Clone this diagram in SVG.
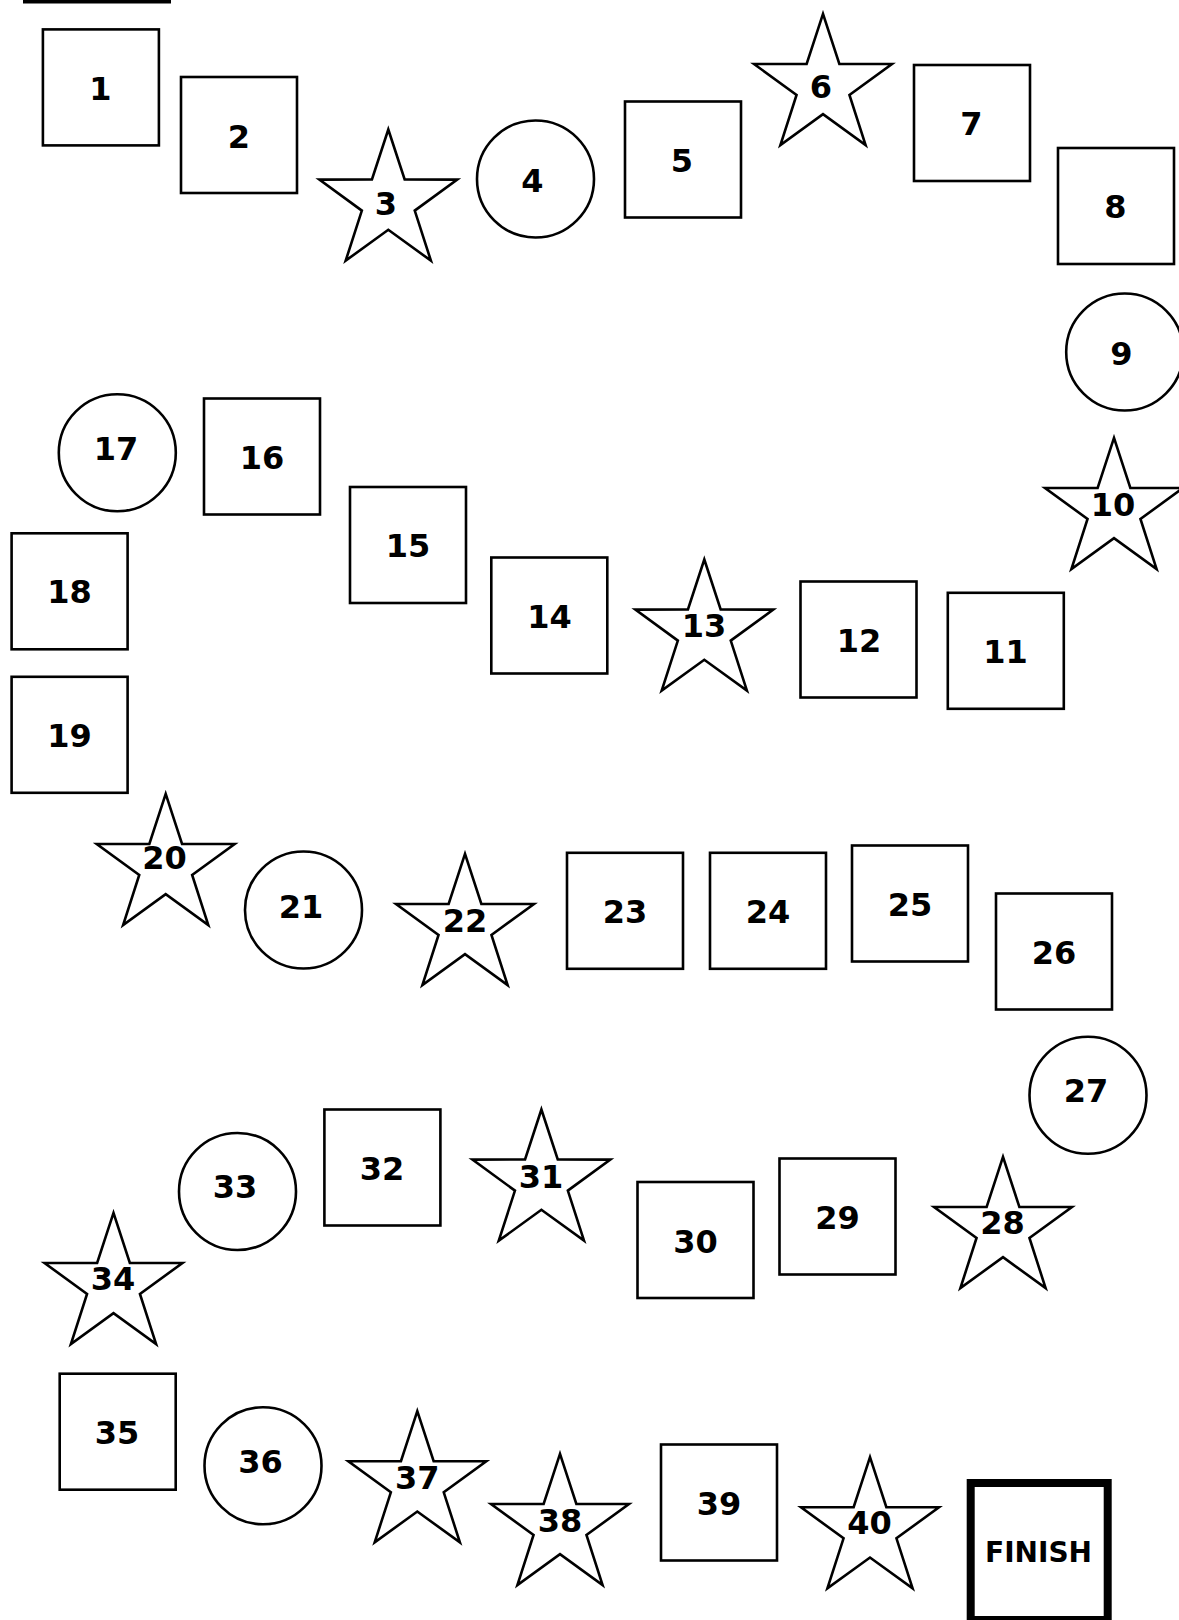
<svg xmlns="http://www.w3.org/2000/svg" xmlns:xlink="http://www.w3.org/1999/xlink" width="1179" height="1620" viewBox="0 0 1179 1620">
<style>
.s{fill:#fff;stroke:#000;stroke-width:2.6}
.t{font-family:"DejaVu Sans","Liberation Sans",sans-serif;font-weight:bold;font-size:32px;fill:#000;text-anchor:middle}
.f{font-family:"DejaVu Sans","Liberation Sans",sans-serif;font-weight:bold;font-size:28px;fill:#000;text-anchor:middle}
</style>
<defs>
<polygon id="star" class="s" points="0,-72.5 16.35,-22.5 68.95,-22.4 26.45,8.6 42.6,58.65 0,27.8 -42.6,58.65 -26.45,8.6 -68.95,-22.4 -16.35,-22.5"/>
<rect id="box" class="s" x="-58" y="-58" width="116" height="116"/>
<circle id="circ" class="s" r="58.5"/>
</defs>
<rect width="1179" height="1620" fill="#fff"/>
<rect x="23" y="0" width="148" height="3.5" fill="#000"/>
<g id="connectors"/>
<g id="n1"><use xlink:href="#box" x="100.9" y="87.4"/><text class="t" x="100.5" y="100">1</text></g>
<g id="n2"><use xlink:href="#box" x="239" y="135"/><text class="t" x="239" y="148">2</text></g>
<g id="n3"><use xlink:href="#star" x="388.3" y="202"/><text class="t" x="386" y="215">3</text></g>
<g id="n4"><use xlink:href="#circ" x="535.5" y="179"/><text class="t" x="532.5" y="192">4</text></g>
<g id="n5"><use xlink:href="#box" x="683" y="159.5"/><text class="t" x="682" y="171.7">5</text></g>
<g id="n6"><use xlink:href="#star" x="823" y="86.4"/><text class="t" x="821" y="98.3">6</text></g>
<g id="n7"><use xlink:href="#box" x="972" y="123"/><text class="t" x="971.5" y="135">7</text></g>
<g id="n8"><use xlink:href="#box" x="1116" y="206"/><text class="t" x="1115.5" y="218.3">8</text></g>
<g id="n9"><use xlink:href="#circ" x="1124.7" y="352"/><text class="t" x="1121.5" y="365">9</text></g>
<g id="n10"><use xlink:href="#star" x="1114" y="510.4"/><text class="t" x="1113" y="516">10</text></g>
<g id="n11"><use xlink:href="#box" x="1005.8" y="650.8"/><text class="t" x="1005.5" y="662.7">11</text></g>
<g id="n12"><use xlink:href="#box" x="858.5" y="639.5"/><text class="t" x="859" y="651.7">12</text></g>
<g id="n13"><use xlink:href="#star" x="704.3" y="632"/><text class="t" x="704" y="637.3">13</text></g>
<g id="n14"><use xlink:href="#box" x="549.3" y="615.5"/><text class="t" x="549.5" y="628.3">14</text></g>
<g id="n15"><use xlink:href="#box" x="408" y="545"/><text class="t" x="408" y="556.7">15</text></g>
<g id="n16"><use xlink:href="#box" x="262" y="456.5"/><text class="t" x="262" y="469.3">16</text></g>
<g id="n17"><use xlink:href="#circ" x="117.3" y="452.7"/><text class="t" x="116" y="460">17</text></g>
<g id="n18"><use xlink:href="#box" x="69.6" y="591.3"/><text class="t" x="69.5" y="603.3">18</text></g>
<g id="n19"><use xlink:href="#box" x="69.6" y="734.8"/><text class="t" x="69.5" y="746.7">19</text></g>
<g id="n20"><use xlink:href="#star" x="165.7" y="866.4"/><text class="t" x="164.5" y="869.3">20</text></g>
<g id="n21"><use xlink:href="#circ" x="303.5" y="910"/><text class="t" x="301" y="917.7">21</text></g>
<g id="n22"><use xlink:href="#star" x="465" y="926.4"/><text class="t" x="465" y="931.7">22</text></g>
<g id="n23"><use xlink:href="#box" x="625" y="910.8"/><text class="t" x="625" y="922.7">23</text></g>
<g id="n24"><use xlink:href="#box" x="768" y="910.8"/><text class="t" x="768" y="922.7">24</text></g>
<g id="n25"><use xlink:href="#box" x="910" y="903.5"/><text class="t" x="910" y="916">25</text></g>
<g id="n26"><use xlink:href="#box" x="1054" y="951.5"/><text class="t" x="1054" y="964">26</text></g>
<g id="n27"><use xlink:href="#circ" x="1088" y="1095.2"/><text class="t" x="1086" y="1102.3">27</text></g>
<g id="n28"><use xlink:href="#star" x="1003" y="1229.4"/><text class="t" x="1002.5" y="1234.3">28</text></g>
<g id="n29"><use xlink:href="#box" x="837.5" y="1216.5"/><text class="t" x="837.5" y="1229">29</text></g>
<g id="n30"><use xlink:href="#box" x="695.5" y="1240"/><text class="t" x="695.5" y="1253.3">30</text></g>
<g id="n31"><use xlink:href="#star" x="541.4" y="1182"/><text class="t" x="541" y="1188.3">31</text></g>
<g id="n32"><use xlink:href="#box" x="382.4" y="1167.5"/><text class="t" x="382" y="1180">32</text></g>
<g id="n33"><use xlink:href="#circ" x="237.5" y="1191.5"/><text class="t" x="235" y="1198.3">33</text></g>
<g id="n34"><use xlink:href="#star" x="113.5" y="1285.4"/><text class="t" x="113" y="1290">34</text></g>
<g id="n35"><use xlink:href="#box" x="117.7" y="1431.7"/><text class="t" x="117" y="1444">35</text></g>
<g id="n36"><use xlink:href="#circ" x="263" y="1465.8"/><text class="t" x="260.5" y="1472.7">36</text></g>
<g id="n37"><use xlink:href="#star" x="417.3" y="1483.7"/><text class="t" x="417.3" y="1489">37</text></g>
<g id="n38"><use xlink:href="#star" x="560" y="1526.4"/><text class="t" x="560" y="1531.7">38</text></g>
<g id="n39"><use xlink:href="#box" x="719" y="1502.5"/><text class="t" x="719" y="1515">39</text></g>
<g id="n40"><use xlink:href="#star" x="870" y="1529.7"/><text class="t" x="869.5" y="1534.3">40</text></g>
<g id="finish"><rect x="970.7" y="1483" width="137" height="137" fill="#fff" stroke="#000" stroke-width="8"/><text class="f" x="1038.5" y="1562">FINISH</text></g>
</svg>
